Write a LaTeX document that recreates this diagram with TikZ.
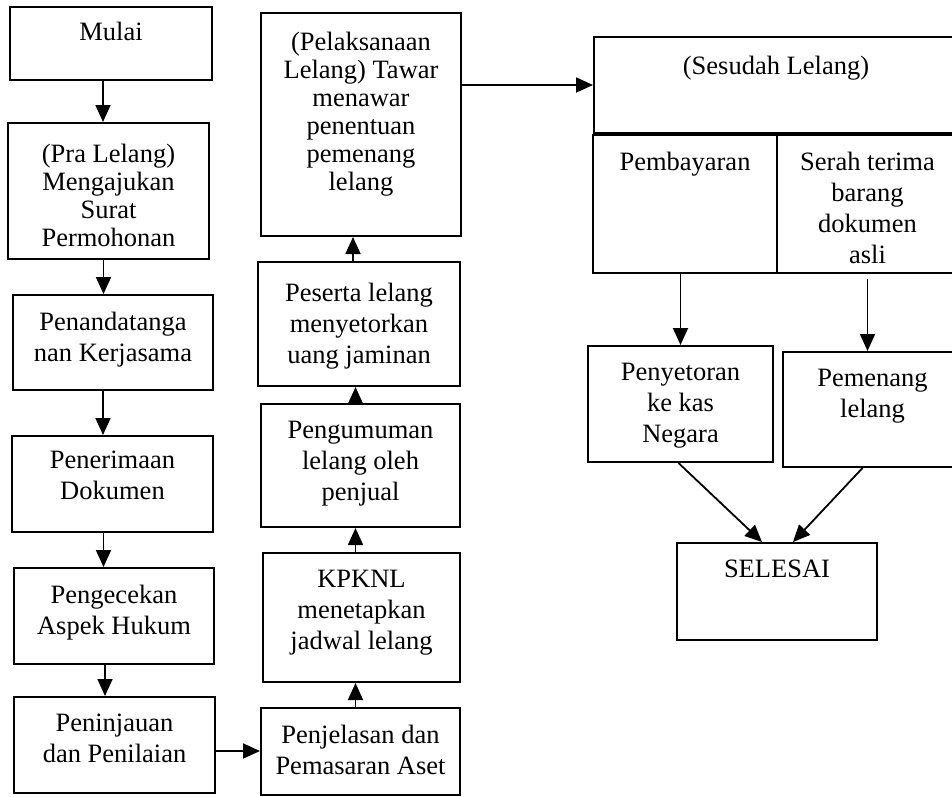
\documentclass[tikz,border=0pt]{standalone}
\usepackage{fontspec}
\setmainfont{Liberation Serif}
\usetikzlibrary{arrows.meta,positioning}
\tikzset{
    box/.style={draw, line width=2pt, inner sep=0pt},
    txt/.style={anchor=north, align=center, inner sep=0pt, yshift=-18pt, font=\fontsize{26.5}{31}\selectfont},
    tight/.style={font=\fontsize{26.5}{28}\selectfont},
    arr/.style={-{Triangle[length=17pt,width=15pt]}, line width=1.8pt}
}
\begin{document}
\begin{tikzpicture}[x=1pt,y=-1pt]
	\useasboundingbox (0,0) rectangle (952,796);
	\clip (0,0) rectangle (952,796);
	\node[box, minimum width=202, minimum height=73, label={[txt, yshift=2pt]north:Mulai}] (mulai) at (111,43.5) {};
	\node[box, minimum width=201, minimum height=136, label={[txt, tight, yshift=-4pt]north:{(Pra Lelang)\\Mengajukan\\Surat\\Permohonan}}] (pra) at (108.5,191) {};
	\node[box, minimum width=200, minimum height=95, label={[txt]north:{Penandatanga\\nan Kerjasama}}] (tanda) at (113,342.5) {};
	\node[box, minimum width=201, minimum height=96, label={[txt, yshift=2pt]north:{Penerimaan\\Dokumen}}] (terima) at (112.5,484) {};
	\node[box, minimum width=200, minimum height=96, label={[txt]north:{Pengecekan\\Aspek Hukum}}] (cek) at (114,616) {};
	\node[box, minimum width=201, minimum height=96, label={[txt]north:{Peninjauan\\dan Penilaian}}] (tinjau) at (114.5,745) {};

	\node[box, minimum width=199, minimum height=87, label={[txt]north:{Penjelasan dan\\Pemasaran Aset}}] (jelas) at (360.5,751.5) {};
	\node[box, minimum width=197, minimum height=129, label={[txt]north:{KPKNL\\menetapkan\\jadwal lelang}}] (kpknl) at (361.5,617.5) {};
	\node[box, minimum width=199, minimum height=123, label={[txt]north:{Pengumuman\\lelang oleh\\penjual}}] (umum) at (360.5,465.5) {};
	\node[box, minimum width=202, minimum height=124, label={[txt, yshift=-4pt]north:{Peserta lelang\\menyetorkan\\uang jaminan}}] (peserta) at (359,324) {};
	\node[box, minimum width=200, minimum height=223, label={[txt, tight, yshift=-2pt]north:{(Pelaksanaan\\Lelang) Tawar\\menawar\\penentuan\\pemenang\\lelang}}] (laksana) at (361,124.5) {};

	\node[box, minimum width=364, minimum height=96, label={[txt, yshift=-2pt]north:(Sesudah Lelang)}] (sesudah) at (776,85) {};
	\node[box, minimum width=184, minimum height=138, label={[txt]north:Pembayaran}] (bayar) at (685,204) {};
	\node[box, minimum width=181, minimum height=138, label={[txt]north:{Serah terima\\barang\\dokumen\\asli}}] (serah) at (867.5,204) {};
	\node[box, minimum width=185, minimum height=116, label={[txt]north:{Penyetoran\\ke kas\\Negara}}] (setor) at (680.5,404) {};
	\node[box, minimum width=179, minimum height=115, label={[txt]north:{Pemenang\\lelang}}] (menang) at (872.5,409.5) {};
	\node[box, minimum width=200, minimum height=97, label={[txt]north:SELESAI}] (selesai) at (777,591.5) {};

	\draw[arr] ([xshift=-8pt]mulai.south) -- ([xshift=-8pt]mulai.south |- pra.north);
	\draw[arr] ([xshift=-5pt]pra.south) -- ([xshift=-5pt]pra.south |- tanda.north);
	\draw[arr] ([xshift=-10pt]tanda.south) -- ([xshift=-10pt]tanda.south |- terima.north);
	\draw[arr] ([xshift=-9pt]terima.south) -- ([xshift=-9pt]terima.south |- cek.north);
	\draw[arr] ([xshift=-9pt]cek.south) -- ([xshift=-9pt]cek.south |- tinjau.north);
	\draw[arr] ([yshift=-6pt]tinjau.east) -- ([yshift=-6pt]tinjau.east -| jelas.west);
	\draw[arr] ([xshift=-5pt]jelas.north) -- ([xshift=-5pt]jelas.north |- kpknl.south);
	\draw[arr] ([xshift=-6pt]kpknl.north) -- ([xshift=-6pt]kpknl.north |- umum.south);
	\draw[arr] ([xshift=-5pt]umum.north) -- ([xshift=-5pt]umum.north |- peserta.south);
	\draw[arr] ([xshift=-6pt]peserta.north) -- ([xshift=-6pt]peserta.north |- laksana.south);
	\draw[arr] (sesudah.west -| laksana.east) -- (sesudah.west);
	\draw[arr] (setor.north |- bayar.south) -- (setor.north);
	\draw[arr] ([yshift=-5pt]serah.south) -- (serah.south |- menang.north);
	\draw[arr] ([xshift=-2pt]setor.south) -- ([xshift=-15pt]selesai.north);
	\draw[arr] ([xshift=-10pt]menang.south) -- ([xshift=16pt]selesai.north);
\end{tikzpicture}
\end{document}
